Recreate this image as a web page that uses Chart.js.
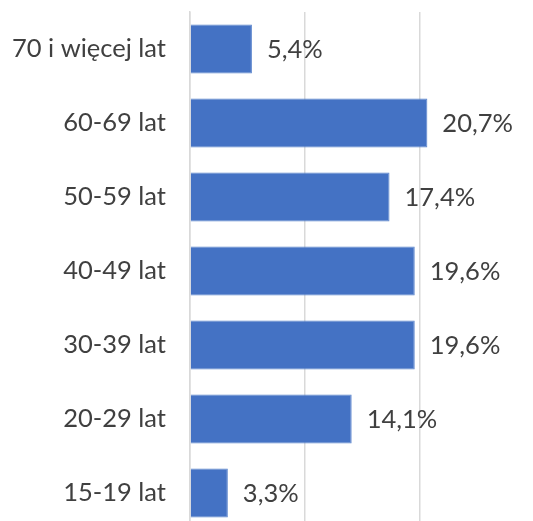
<!DOCTYPE html>
<html>
<head>
<meta charset="utf-8">
<script src="https://cdn.jsdelivr.net/npm/chart.js@4"></script>
<style>
  html, body { margin: 0; padding: 0; background: #fff; overflow: hidden; }
  #wrap { width: 540px; height: 530px; }
</style>
</head>
<body>
<div id="wrap"><canvas id="ageChart" width="540" height="530"></canvas></div>
<script>
// Age groups, top to bottom
const ageGroups = ['70 i więcej lat', '60-69 lat', '50-59 lat', '40-49 lat', '30-39 lat', '20-29 lat', '15-19 lat'];
const shares = [5.4, 20.7, 17.4, 19.6, 19.6, 14.1, 3.3];
const gridTicks = [0, 10, 20, 30];

const fontFamily = 'Lato, "Open Sans", sans-serif';
const textColor = '#404040';
const gridColor = '#d9d9d9';

// value labels at the end of each bar
const barLabels = {
  id: 'barLabels',
  afterDatasetsDraw(chart) {
    const ctx = chart.ctx;
    const meta = chart.getDatasetMeta(0);
    ctx.save();
    ctx.font = '25.5px ' + fontFamily;
    ctx.fillStyle = textColor;
    ctx.textAlign = 'left';
    ctx.textBaseline = 'middle';
    meta.data.forEach((bar, i) => {
      const txt = shares[i].toFixed(1).replace('.', ',') + '%';
      ctx.fillText(txt, bar.x + 15, bar.y + 1);
    });
    ctx.restore();
  }
};

new Chart(document.getElementById('ageChart'), {
  type: 'bar',
  data: {
    labels: ageGroups,
    datasets: [{
      data: shares,
      backgroundColor: '#4472c4',
      borderColor: '#5a84cc',
      borderWidth: 1,
      categoryPercentage: 1,
      barPercentage: 0.66
    }]
  },
  options: {
    indexAxis: 'y',
    responsive: false,
    animation: false,
    layout: { padding: { top: 12, right: 6, bottom: 0, left: 0 } },
    plugins: { legend: { display: false }, tooltip: { enabled: false } },
    scales: {
      x: {
        min: 0,
        max: 30,
        afterBuildTicks: (s) => { s.ticks = gridTicks.map(v => ({ value: v })); },
        ticks: { display: false },
        grid: { color: gridColor, lineWidth: 1.5, drawTicks: false },
        border: { display: false }
      },
      y: {
        afterFit: (s) => {
          s.width = 190;
          s.paddingTop = 0;
          s.paddingBottom = 0;
        },
        ticks: {
          color: textColor,
          font: { family: fontFamily, size: 25.5 },
          padding: 24
        },
        grid: { display: false, drawTicks: false },
        border: { display: true, color: gridColor, width: 1.5 }
      }
    }
  },
  plugins: [barLabels]
});
</script>
</body>
</html>
